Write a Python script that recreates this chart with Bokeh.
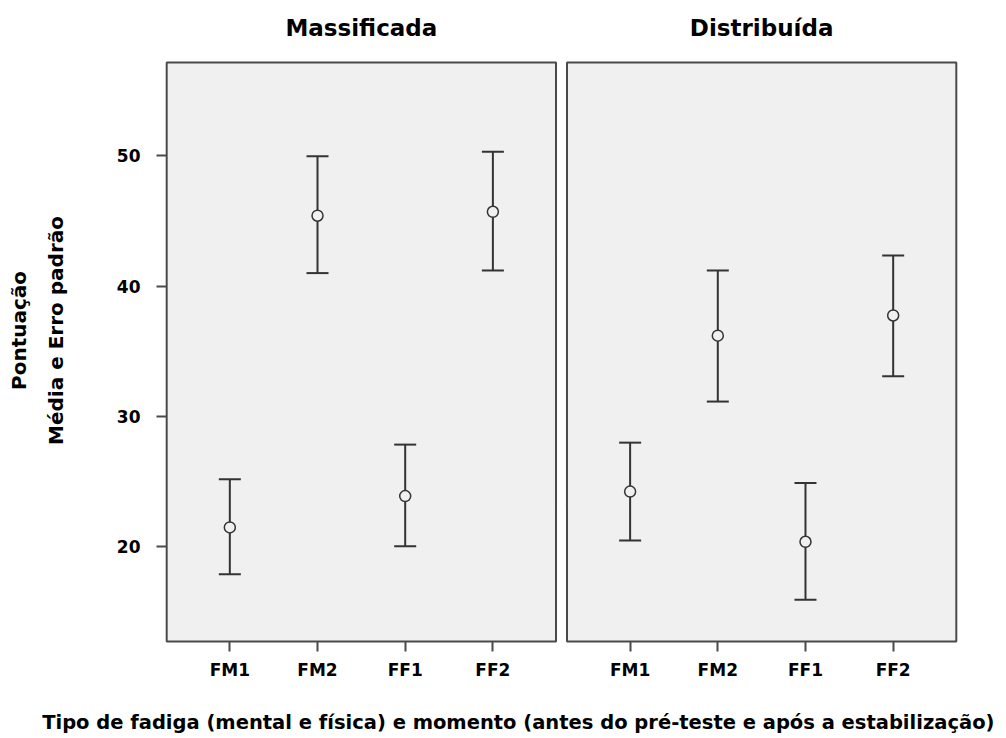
from bokeh.plotting import figure
from bokeh.models import Range1d, FixedTicker, ColumnDataSource, LinearAxis
from bokeh.embed import file_html
from bokeh.resources import INLINE

# ---------------- data ----------------
categories = ["FM1", "FM2", "FF1", "FF2"]
panels = ["Massificada", "Distribuída"]

mass_mean = [21.5, 45.4, 23.9, 45.7]
mass_upper = [25.2, 49.95, 27.85, 50.3]
mass_lower = [17.9, 41.0, 20.05, 41.2]

dist_mean = [24.25, 36.2, 20.4, 37.75]
dist_upper = [28.0, 41.2, 24.9, 42.35]
dist_lower = [20.5, 31.15, 15.95, 33.1]

y_ticks = [20, 30, 40, 50]
y_min, y_max = 12.75, 57.15

x_title = "Tipo de fadiga (mental e física) e momento (antes do pré-teste e após a estabilização)"
y_title_1 = "Pontuação"
y_title_2 = "Média e Erro padrão"

# ---------------- layout constants ----------------
PAD = 0.72        # space between panel edge and first/last category
GAP = 0.125       # gap between panels
OFFSET = round(len(categories) - 1 + 2 * PAD + GAP, 3)
EDGE_X = 0.025
EDGE_Y = 0.15
X_TITLE_POS = 3.29     # horizontal centre of the x title (data units)
Y_TITLE_POS = 36.6     # vertical centre of the y titles (data units)
FONT = "DejaVu Sans"
INK = "#333333"
BORDER = "#4a4a4a"
PANEL_BG = "#f0f0f0"

n = len(categories)
x1 = [float(i) for i in range(n)]
x2 = [round(i + OFFSET, 3) for i in range(n)]

p = figure(width=1000, height=736,
           x_range=Range1d(-PAD - EDGE_X, OFFSET + n - 1 + PAD + EDGE_X),
           y_range=Range1d(y_min - EDGE_Y, y_max + EDGE_Y),
           output_backend="svg", toolbar_location=None,
           min_border_left=164, min_border_right=42,
           min_border_top=60, min_border_bottom=92)
p.outline_line_color = None
p.xgrid.visible = False
p.ygrid.visible = False
p.background_fill_color = "white"
p.border_fill_color = "white"

# panels
p.quad(left=[-PAD, OFFSET - PAD], right=[n - 1 + PAD, OFFSET + n - 1 + PAD],
       bottom=[y_min, y_min], top=[y_max, y_max],
       fill_color=PANEL_BG, line_color=BORDER, line_width=2)

for xs, mean, up, lo in [(x1, mass_mean, mass_upper, mass_lower),
                         (x2, dist_mean, dist_upper, dist_lower)]:
    src = ColumnDataSource(dict(x=xs, mean=mean, upper=up, lower=lo))
    p.segment(x0="x", y0="lower", x1="x", y1="upper", source=src,
              line_color=INK, line_width=2)
    p.scatter(x="x", y="upper", source=src, marker="dash", size=22,
              line_color=INK, line_width=2)
    p.scatter(x="x", y="lower", source=src, marker="dash", size=22,
              line_color=INK, line_width=2)
    p.scatter(x="x", y="mean", source=src, marker="circle", size=11,
              fill_color=PANEL_BG, line_color=INK, line_width=1.5)

# main axes
p.xaxis.ticker = FixedTicker(ticks=x1 + x2)
p.xaxis.major_label_overrides = {**{x: c for x, c in zip(x1, categories)},
                                 **{x: c for x, c in zip(x2, categories)}}
p.yaxis.ticker = FixedTicker(ticks=y_ticks)
for ax in (p.xaxis, p.yaxis):
    ax.axis_line_color = None
    ax.major_tick_line_color = BORDER
    ax.major_tick_line_width = 2
    ax.major_tick_out = 8
    ax.major_tick_in = 2
    ax.minor_tick_line_color = None
    ax.major_label_text_font = FONT
    ax.major_label_text_font_style = "bold"
    ax.major_label_text_font_size = "17px"
    ax.major_label_text_color = "black"
p.xaxis.major_label_standoff = 8
p.yaxis.major_label_standoff = 16


def text_axis(ticks, labels, size, standoff, orientation="horizontal"):
    ax = LinearAxis(ticker=FixedTicker(ticks=ticks),
                    major_label_overrides=dict(zip(ticks, labels)))
    ax.axis_line_color = None
    ax.major_tick_line_color = None
    ax.minor_tick_line_color = None
    ax.major_tick_out = 0
    ax.major_tick_in = 0
    ax.major_label_standoff = standoff
    ax.major_label_orientation = orientation
    ax.major_label_text_font = FONT
    ax.major_label_text_font_style = "bold"
    ax.major_label_text_font_size = size
    ax.major_label_text_color = "black"
    return ax


# panel titles (above each panel)
centers = [round(i * OFFSET + (n - 1) / 2, 3) for i in range(len(panels))]
p.add_layout(text_axis(centers, panels, "23px", 20), "above")

# y titles
p.add_layout(text_axis([Y_TITLE_POS], [y_title_2], "20px", 45, "vertical"), "left")
p.add_layout(text_axis([Y_TITLE_POS], [y_title_1], "20px", 10, "vertical"), "left")

# x title
p.add_layout(text_axis([X_TITLE_POS], [x_title], "19.5px", 28), "below")

open("out.html", "w").write(file_html(p, INLINE))
